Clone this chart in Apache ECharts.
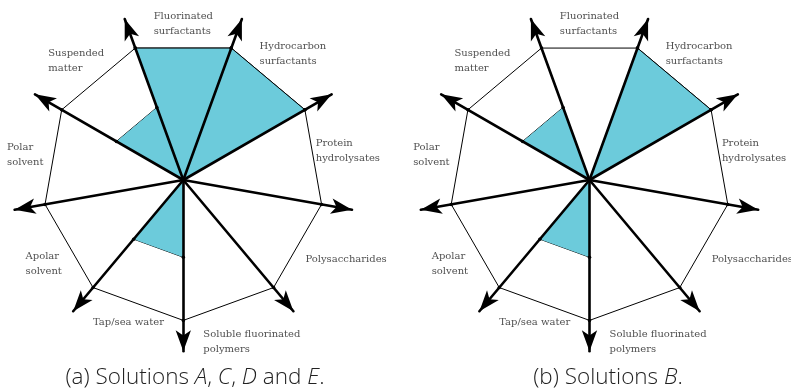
<!DOCTYPE html>
<html>
<head>
<meta charset="utf-8">
<script src="https://cdn.jsdelivr.net/npm/echarts@6/dist/echarts.min.js"></script>
<style>
  html, body { margin: 0; padding: 0; background: #fff; }
  #chart { width: 791px; height: 392px; }
</style>
</head>
<body>
<div id="chart"></div>
<script>
// sectors, counter-clockwise starting just after the downward axis
const sectors = [
  'Soluble fluorinated\npolymers',
  'Polysaccharides',
  'Protein\nhydrolysates',
  'Hydrocarbon\nsurfactants',
  'Fluorinated\nsurfactants',
  'Suspended\nmatter',
  'Polar\nsolvent',
  'Apolar\nsolvent',
  'Tap/sea water'
];
// how far each sector is filled (1 = outer polygon)
const valuesA = [0, 0, 0, 1, 1, 0.55, 0, 0, 0.55];
const valuesB = [0, 0, 0, 1, 0, 0.55, 0, 0, 0.55];
const captions = [
  '(a) Solutions {i|A}, {i|C}, {i|D} and {i|E}.',
  '(b) Solutions {i|B}.'
];

// layout
const centers = [183.3, 589.5];
const centerY = 180;
const unit = 140.4;          // px for value 1
const axisMax = 1.22;        // arrow tips
const labelMax = 1.5;
const labelRadius = [1.25, 1.29, 1.19, 1.19, 1.11, 1.14, 1.14, 1.16, 1.09];
const labelAngle = [293, 334, 10, 49, 90, 132, 171, 211, 249];
const captionX = [195, 608];
const fill = '#6ccbdb';
const serif = 'DejaVu Serif';
const sans = 'Open Sans';

const n = sectors.length;
const chart = echarts.init(document.getElementById('chart'), null, { renderer: 'canvas' });

function wedges(vals) {
  const out = [];
  vals.forEach((v, s) => {
    if (!v) return;
    const arr = new Array(n).fill(0);
    arr[s] = v;
    arr[(s + 1) % n] = v;
    out.push({ value: arr });
  });
  return out;
}

const radar = centers.map(cx => ({
  center: [cx, centerY],
  radius: unit * axisMax,
  startAngle: 270,
  shape: 'polygon',
  z: 5,
  indicator: sectors.map(() => ({ name: '', min: 0, max: axisMax })),
  axisName: { show: false },
  splitLine: { show: false },
  splitArea: { show: false },
  axisTick: { show: false },
  axisLabel: { show: false },
  axisLine: {
    symbol: ['none', 'arrow'],
    symbolSize: [11.5, 21],
    lineStyle: { color: '#000', width: 2.6 }
  }
}));

const polar = centers.map(cx => ({ center: [cx, centerY], radius: unit * labelMax }));
const angleAxis = centers.map((cx, k) => ({
  polarIndex: k, type: 'value', min: 0, max: 360, startAngle: 0, clockwise: false,
  axisLine: { show: false }, axisTick: { show: false }, axisLabel: { show: false }, splitLine: { show: false }
}));
const radiusAxis = centers.map((cx, k) => ({
  polarIndex: k, type: 'value', min: 0, max: labelMax,
  axisLine: { show: false }, axisTick: { show: false }, axisLabel: { show: false }, splitLine: { show: false }
}));

const series = [];
[valuesA, valuesB].forEach((vals, k) => {
  series.push({
    type: 'radar',
    radarIndex: k,
    z: 1,
    symbol: 'circle',
    symbolSize: 3.5,
    itemStyle: { color: '#000' },
    lineStyle: { color: '#000', width: 1 },
    areaStyle: { color: fill, opacity: 1 },
    data: wedges(vals)
  });
  series.push({
    type: 'radar',
    radarIndex: k,
    z: 2,
    symbol: 'circle',
    symbolSize: 3.5,
    itemStyle: { color: '#000' },
    lineStyle: { color: '#000', width: 1 },
    data: [{ value: new Array(n).fill(1) }]
  });
  series.push({
    type: 'scatter',
    coordinateSystem: 'polar',
    polarIndex: k,
    symbolSize: 1,
    itemStyle: { color: 'rgba(0,0,0,0)' },
    silent: true,
    label: {
      show: true,
      position: 'inside',
      formatter: p => p.name.split('\n').map(s => '{l|' + s + '}').join('\n'),
      rich: {
        l: { align: 'left', fontFamily: serif, fontSize: 10, lineHeight: 15, color: '#222' }
      }
    },
    data: sectors.map((name, i) => ({ name: name, value: [labelRadius[i], labelAngle[i]] }))
  });
});

const graphic = captions.map((t, k) => ({
  type: 'text',
  x: captionX[k],
  y: 378,
  style: {
    text: t,
    align: 'center',
    verticalAlign: 'middle',
    fontFamily: sans,
    fontWeight: 300,
    fontSize: 22.5,
    fill: '#222',
    rich: {
      i: { fontFamily: sans, fontWeight: 300, fontStyle: 'italic', fontSize: 22.5, fill: '#222' }
    }
  }
}));

chart.setOption({
  animation: false,
  backgroundColor: '#fff',
  radar: radar,
  polar: polar,
  angleAxis: angleAxis,
  radiusAxis: radiusAxis,
  series: series,
  graphic: graphic
});
</script>
</body>
</html>
